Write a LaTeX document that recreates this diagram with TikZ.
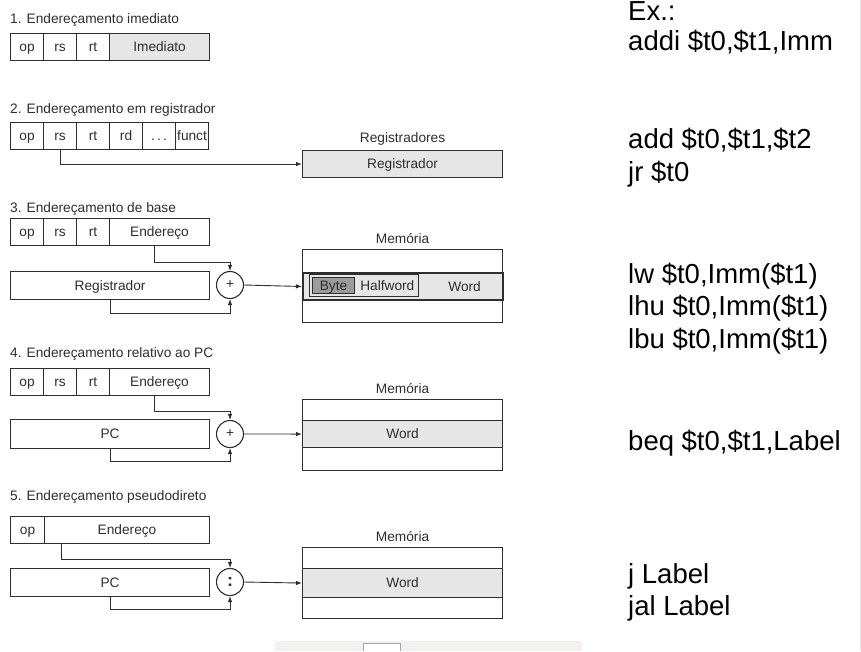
\documentclass[tikz,border=0pt]{standalone}
\usepackage{fontspec}
\setmainfont{Liberation Sans}
\usetikzlibrary{positioning,calc,arrows.meta}
\newcommand{\fieldfont}{\fontsize{13.7}{16}\selectfont}
\newcommand{\asmfont}{\fontsize{27.5}{32.5}\selectfont}
\definecolor{linegray}{HTML}{2E2E2E}
\definecolor{cellgray}{HTML}{E6E6E6}
\definecolor{bytegray}{HTML}{9C9C9C}
\definecolor{bargray}{HTML}{F2F1EF}
\tikzset{
  field/.style={rectangle, draw=linegray, line width=1.1pt, minimum height=27pt, inner sep=0pt, text height=10pt, text depth=1pt, anchor=north west, font=\fieldfont, text=linegray},
  cell/.style={field, fill=cellgray},
  heading/.style={anchor=base west, inner sep=0pt, font=\fieldfont, text=linegray},
  tag/.style={inner sep=0pt, font=\fieldfont, text=linegray},
  adder/.style={circle, draw=linegray, line width=1.1pt, minimum size=27pt, inner sep=0pt, font=\fieldfont, text=linegray},
  connect/.style={-{Latex[length=6pt,width=4.5pt]}, line width=0.9pt, draw=linegray},
  asm/.style={anchor=base west, inner sep=0pt, font=\asmfont}
}

\begin{document}
\begin{tikzpicture}[x=1pt, y=-1pt]
  \path[use as bounding box, fill=white] (0,0) rectangle (861,651);

  % 1. immediate
  \node[heading] (title1) at (10,23) {1. Endereçamento imediato};
  \foreach \n/\x in {op/10, rs/43, rt/76}
    \node[field, minimum width=33pt] (\n1) at (\x,33) {\n};
  \node[cell, minimum width=100pt] (imm1) at (109,33) {Imediato};

  % 2. register
  \node[heading] (title2) at (10,113) {2. Endereçamento em registrador};
  \foreach \n/\x/\t in {op/10/op, rs/43/rs, rt/76/rt, rd/109/rd, dots/142/{.\,.\,.}, funct/175/funct}
    \node[field, minimum width=33pt] (\n2) at (\x,122) {\t};
  \node[cell, minimum width=200pt] (reg2) at (302,150) {Registrador};
  \node[tag, above=4pt of reg2] (regs2) {Registradores};
  \path (rs2.south) edge [connect, to path={|- (\tikztotarget)}] (reg2.west);

  % 3. base
  \node[heading] (title3) at (10,212) {3. Endereçamento de base};
  \foreach \n/\x in {op/10, rs/43, rt/76}
    \node[field, minimum width=33pt] (\n3) at (\x,218) {\n};
  \node[field, minimum width=100pt] (end3) at (109,218) {Endereço};
  \node[field, minimum width=199pt, minimum height=28pt] (reg3) at (10,271) {Registrador};
  \node[adder] (add3) at (230,285) {+};
  \node[field, minimum width=200pt, minimum height=73pt] (mem3) at (302,249) {};
  \node[cell, line width=2pt, minimum width=200pt] (band3) at (302,272) {};
  \node[tag, above=5pt of mem3] (memlbl3) {Memória};
  \node[field, fill=cellgray, line width=1.3pt, minimum width=109pt, minimum height=22pt] (hw3) at (309,274) {};
  \node[field, fill=bytegray, minimum width=42pt, minimum height=16pt] (byte3) at (312,277) {Byte};
  \node[tag, right=5pt of byte3] (half3) {Halfword};
  \node[tag, left=23pt of band3.east] (word3) {Word};
  \draw[connect] ($(end3.south)+(-5,0)$) -- ++(0,16) -| (add3.north);
  \draw[connect] (reg3.south) -- ++(0,13) -| (add3.south);
  \draw[connect] (add3.east) -- (band3.west);

  % 4. PC-relative
  \node[heading] (title4) at (10,357) {4. Endereçamento relativo ao PC};
  \foreach \n/\x in {op/10, rs/43, rt/76}
    \node[field, minimum width=33pt] (\n4) at (\x,368) {\n};
  \node[field, minimum width=100pt] (end4) at (109,368) {Endereço};
  \node[field, minimum width=199pt, minimum height=29pt] (pc4) at (10,419) {PC};
  \node[adder] (add4) at (230,434) {+};
  \node[field, minimum width=200pt, minimum height=71pt] (mem4) at (302,399) {};
  \node[cell, minimum width=200pt] (band4) at (302,420) {Word};
  \node[tag, above=5pt of mem4] (memlbl4) {Memória};
  \draw[connect] ($(end4.south)+(-5,0)$) -- ++(0,15) -| (add4.north);
  \draw[connect] (pc4.south) -- ++(0,12) -| (add4.south);
  \draw[connect] (add4.east) -- (band4.west);

  % 5. pseudo-direct
  \node[heading] (title5) at (10,500) {5. Endereçamento pseudodireto};
  \node[field, minimum width=34pt] (op5) at (10,516) {op};
  \node[field, minimum width=165pt] (end5) at (44,516) {Endereço};
  \node[field, minimum width=199pt, minimum height=28pt] (pc5) at (10,568) {PC};
  \node[adder] (cat5) at (230,582) {\fontsize{18}{18}\selectfont\textbf{:}};
  \node[field, minimum width=200pt, minimum height=71pt] (mem5) at (302,547) {};
  \node[cell, minimum width=200pt, minimum height=29pt] (band5) at (302,568) {Word};
  \node[tag, above=5pt of mem5] (memlbl5) {Memória};
  \draw[connect] ($(end5.south west)+(17,0)$) -- ++(0,15) -| (cat5.north);
  \draw[connect] (pc5.south) -- ++(0,12) -| (cat5.south);
  \draw[connect] (cat5.east) -- (band5.west);

  % examples on the right
  \foreach \y/\t [count=\k] in {20/Ex.:, 50/{addi \$t0,\$t1,Imm}, 148/{add \$t0,\$t1,\$t2}, 181/jr \$t0,
      283/{lw \$t0,Imm(\$t1)}, 315/{lhu \$t0,Imm(\$t1)}, 348/{lbu \$t0,Imm(\$t1)},
      450/{beq \$t0,\$t1,Label}, 583/j Label, 615/jal Label}
    \node[asm] (asm\k) at (628,\y) {\t};

  % slide leftovers
  \draw[gray!20, line width=1pt] (860.5,0) -- (860.5,651);
  \fill[bargray] (275,641) rectangle (582,651);
  \draw[gray!70, fill=white] (363,651) -- (363,643) -- (400,643) -- (400,651);
\end{tikzpicture}
\end{document}
